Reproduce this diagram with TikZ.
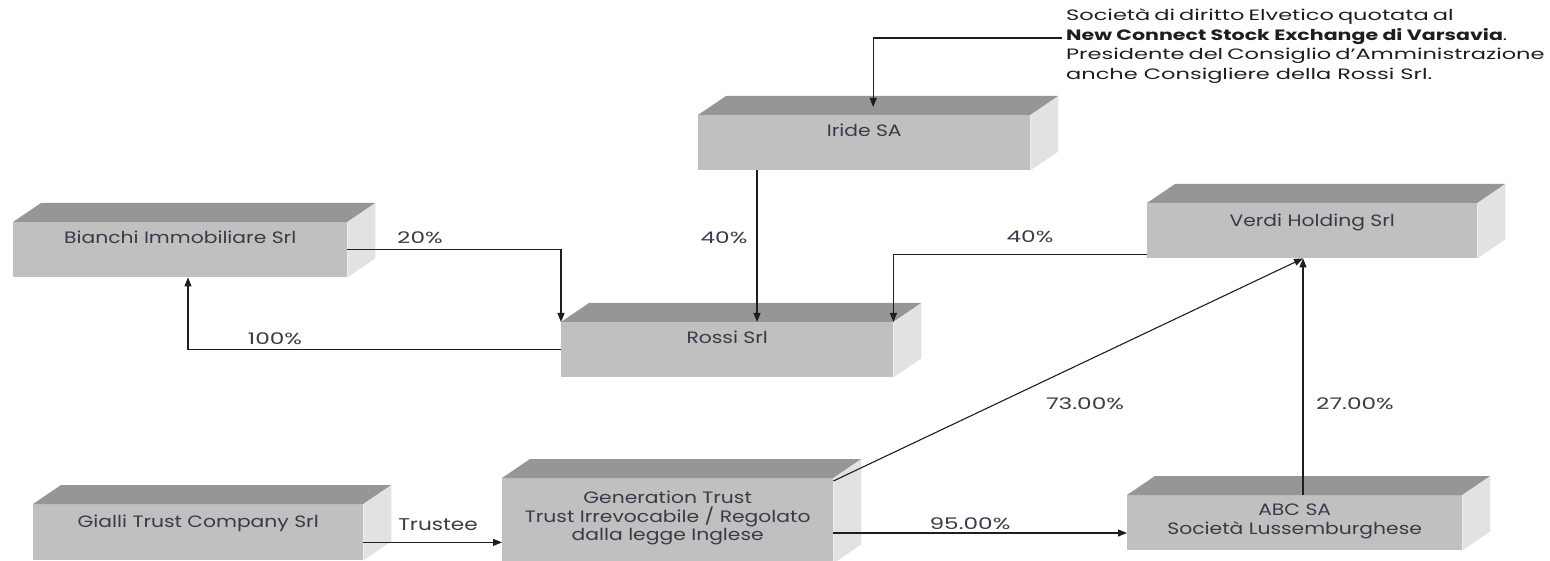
\documentclass[tikz,border=0pt]{standalone}
\usepackage{graphicx}
\usepackage{fontspec}
\setmainfont{Poppins}
\usetikzlibrary{arrows.meta,calc}
\definecolor{topc}{HTML}{969696}
\definecolor{frontc}{HTML}{C0C0C0}
\definecolor{sidec}{HTML}{E2E2E2}
\definecolor{txtc}{HTML}{3A3A48}
\definecolor{linec}{HTML}{1E1E1E}
\newcommand\cubefaces[1]{%
  \fill[topc] (#1.north west) -- ++(28,-19) -- ($(#1.north east)+(28,-19)$) -- (#1.north east) -- cycle;
  \fill[sidec] (#1.north east) -- ++(28,-19) -- ($(#1.south east)+(28,-19)$) -- (#1.south east) -- cycle;}
\newcommand\hs[1]{\scalebox{1.23}[1]{#1}}
\newcommand\hp[1]{\scalebox{1.45}[1]{#1}}
\newcommand\ha[1]{\scalebox{1.5}[1]{#1}}
\begin{document}
\begin{tikzpicture}[x=1pt,y=-1pt,
  front/.style={fill=frontc, draw=none, inner sep=0pt, anchor=north west, minimum height=55pt},
  lbl/.style={text=txtc, font=\fontsize{16.5}{18.5}\selectfont, inner sep=0pt, align=center, anchor=north},
  pct/.style={text=txtc, font=\fontsize{16}{19}\selectfont, inner sep=0pt},
  conn/.style={draw=linec, line width=1.1pt, -{Triangle[length=9pt,width=7pt]}}]
\useasboundingbox (0,0) rectangle (1550,561);
% boxes
\node[front, minimum width=332pt] (iride) at (698,115) {};
\node[front, minimum width=334pt] (bianchi) at (13,222) {};
\node[front, minimum width=332pt] (rossi) at (561,322) {};
\node[front, minimum width=330pt] (verdi) at (1147,203) {};
\node[front, minimum width=330pt, minimum height=56pt] (gialli) at (33,504) {};
\node[front, minimum width=331pt, minimum height=85pt] (gen) at (502,478) {};
\node[front, minimum width=335pt] (abc) at (1127,495) {};
\cubefaces{iride}
\cubefaces{bianchi}
\cubefaces{rossi}
\cubefaces{verdi}
\cubefaces{gialli}
\cubefaces{gen}
\cubefaces{abc}
% box texts
\node[lbl] (iride-t) at ($(iride.north)+(0,9)$) {\hs{Iride SA}};
\node[lbl] (bianchi-t) at ($(bianchi.north)+(0,9)$) {\hs{Bianchi Immobiliare Srl}};
\node[lbl] (rossi-t) at ($(rossi.north)+(0,9)$) {\hs{Rossi Srl}};
\node[lbl] (verdi-t) at ($(verdi.north)+(0,11)$) {\hs{Verdi Holding Srl}};
\node[lbl] (gialli-t) at ($(gialli.north)+(0,11)$) {\hs{Gialli Trust Company Srl}};
\node[lbl] (gen-t) at ($(gen.north)+(0,13)$) {\hs{Generation Trust}\\\hs{Trust Irrevocabile / Regolato}\\\hs{dalla legge Inglese}};
\node[lbl] (abc-t) at ($(abc.north)+(0,9)$) {\hs{ABC SA}\\\hs{Società Lussemburghese}};
% annotation
\node[text=linec, font=\fontsize{15}{19.5}\selectfont, inner sep=0pt, anchor=north west, align=left] (annot) at (1066,9)
  {\ha{\makebox[251pt][s]{Società di diritto Elvetico quotata al}}\\
   \scalebox{1.37}[1]{\textbf{New Connect Stock Exchange di Varsavia}.}\\
   \ha{\makebox[318pt][s]{Presidente del Consiglio d’Amministrazione}}\\
   \ha{anche Consigliere della Rossi Srl.}};
\coordinate (ann-start) at (1062,38);
\coordinate (iride-top) at ($(iride.north)+(9,-8)$);
\draw[conn] (ann-start) -| (iride-top);
% connectors
\coordinate (ir-out) at ($(iride.south west)+(59,0)$);
\draw[conn] (ir-out) -- (ir-out |- rossi.north);
\draw[conn] (bianchi.east) -| (rossi.north west);
\coordinate (bi-in) at ($(bianchi.south west)+(175,0)$);
\draw[conn] (rossi.west) -| (bi-in);
\coordinate (ve-out) at ($(verdi.south west)+(0,-4)$);
\draw[conn] (ve-out) -| (rossi.north east);
\coordinate (ve-in) at ($(verdi.south west)+(156,0)$);
\coordinate (gen-out) at ($(gen.north east)+(0,3)$);
\draw[conn] (gen-out) -- (ve-in);
\draw[conn] (abc.north -| ve-in) -- (ve-in);
\coordinate (gi-out) at ($(gialli.south east)+(0,-18)$);
\draw[conn] (gi-out) -- (gi-out -| gen.west);
\coordinate (gen-out2) at ($(gen.north east)+(0,55)$);
\draw[conn] (gen-out2) -- (gen-out2 -| abc.west);
% labels
\node[pct] (l20) at (420,238) {\hp{20\%}};
\node[pct] (l40a) at (724,238) {\hp{40\%}};
\node[pct] (l40b) at (1030,237) {\hp{40\%}};
\node[pct] (l100) at (275,339) {\hp{100\%}};
\node[pct] (l73) at (1085,404) {\hp{73.00\%}};
\node[pct] (l27) at (1355,404) {\hp{27.00\%}};
\node[pct, font=\fontsize{17}{19}\selectfont] (ltr) at (438,525) {\scalebox{1.27}[1]{Trustee}};
\node[pct] (l95) at (970,524) {\hp{95.00\%}};
\end{tikzpicture}
\end{document}
